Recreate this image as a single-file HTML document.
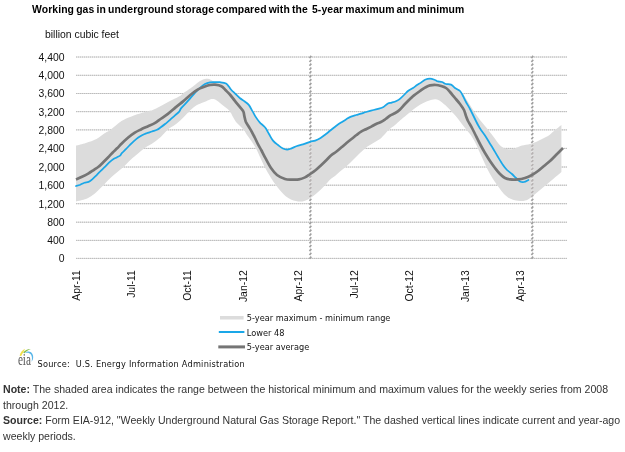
<!DOCTYPE html>
<html><head><meta charset="utf-8"><title>Working gas in underground storage</title>
<style>
html,body{margin:0;padding:0;background:#fff}
body{width:625px;height:452px;position:relative;overflow:hidden;-webkit-font-smoothing:antialiased;font-family:"Liberation Sans",Arial,sans-serif}
.ax{font:10.4px "Liberation Sans",Arial,sans-serif;fill:#111}
.lg{font:8.2px "DejaVu Sans",Verdana,sans-serif;fill:#111}
.title,.unit,.note{will-change:transform}
.title{position:absolute;left:32px;top:3.3px;font:bold 10.4px "Liberation Sans",Arial,sans-serif;color:#000;white-space:pre;line-height:14px;letter-spacing:0.1px;word-spacing:-0.9px}
.unit{position:absolute;left:44.6px;top:27.8px;font:10.4px "Liberation Sans",Arial,sans-serif;color:#111;white-space:nowrap;line-height:14px}
.note{position:absolute;left:3.4px;top:382.4px;width:621px;font:10.57px "Liberation Sans",Arial,sans-serif;line-height:15.7px;color:#333;white-space:nowrap}
.note b{font-weight:bold}
</style></head><body>
<svg width="625" height="452" viewBox="0 0 625 452" style="position:absolute;left:0;top:0;will-change:transform">
<line x1="76" x2="567" y1="57.00" y2="57.00" stroke="#d6d6d6" stroke-width="1"/>
<line x1="76" x2="567" y1="57.00" y2="57.00" stroke="#bcbcbc" stroke-width="1" stroke-dasharray="1,1"/>
<line x1="76" x2="567" y1="75.30" y2="75.30" stroke="#d6d6d6" stroke-width="1"/>
<line x1="76" x2="567" y1="75.30" y2="75.30" stroke="#bcbcbc" stroke-width="1" stroke-dasharray="1,1"/>
<line x1="76" x2="567" y1="93.50" y2="93.50" stroke="#d6d6d6" stroke-width="1"/>
<line x1="76" x2="567" y1="93.50" y2="93.50" stroke="#bcbcbc" stroke-width="1" stroke-dasharray="1,1"/>
<line x1="76" x2="567" y1="111.65" y2="111.65" stroke="#d6d6d6" stroke-width="1"/>
<line x1="76" x2="567" y1="111.65" y2="111.65" stroke="#bcbcbc" stroke-width="1" stroke-dasharray="1,1"/>
<line x1="76" x2="567" y1="129.90" y2="129.90" stroke="#d6d6d6" stroke-width="1"/>
<line x1="76" x2="567" y1="129.90" y2="129.90" stroke="#bcbcbc" stroke-width="1" stroke-dasharray="1,1"/>
<line x1="76" x2="567" y1="148.40" y2="148.40" stroke="#d6d6d6" stroke-width="1"/>
<line x1="76" x2="567" y1="148.40" y2="148.40" stroke="#bcbcbc" stroke-width="1" stroke-dasharray="1,1"/>
<line x1="76" x2="567" y1="167.00" y2="167.00" stroke="#d6d6d6" stroke-width="1"/>
<line x1="76" x2="567" y1="167.00" y2="167.00" stroke="#bcbcbc" stroke-width="1" stroke-dasharray="1,1"/>
<line x1="76" x2="567" y1="185.20" y2="185.20" stroke="#d6d6d6" stroke-width="1"/>
<line x1="76" x2="567" y1="185.20" y2="185.20" stroke="#bcbcbc" stroke-width="1" stroke-dasharray="1,1"/>
<line x1="76" x2="567" y1="203.70" y2="203.70" stroke="#d6d6d6" stroke-width="1"/>
<line x1="76" x2="567" y1="203.70" y2="203.70" stroke="#bcbcbc" stroke-width="1" stroke-dasharray="1,1"/>
<line x1="76" x2="567" y1="222.20" y2="222.20" stroke="#d6d6d6" stroke-width="1"/>
<line x1="76" x2="567" y1="222.20" y2="222.20" stroke="#bcbcbc" stroke-width="1" stroke-dasharray="1,1"/>
<line x1="76" x2="567" y1="240.40" y2="240.40" stroke="#d6d6d6" stroke-width="1"/>
<line x1="76" x2="567" y1="240.40" y2="240.40" stroke="#bcbcbc" stroke-width="1" stroke-dasharray="1,1"/>
<line x1="76" x2="567" y1="258.40" y2="258.40" stroke="#d6d6d6" stroke-width="1"/>
<line x1="76" x2="567" y1="258.40" y2="258.40" stroke="#bcbcbc" stroke-width="1" stroke-dasharray="1,1"/>
<path d="M311.3,55.9L309.5,58.1M311.3,59.8L309.5,62.0M311.3,63.6L309.5,65.8M311.3,67.5L309.5,69.7M311.3,71.3L309.5,73.5M311.3,75.2L309.5,77.4M311.3,79.1L309.5,81.3M311.3,82.9L309.5,85.1M311.3,86.8L309.5,89.0M311.3,90.6L309.5,92.8M311.3,94.5L309.5,96.7M311.3,98.4L309.5,100.6M311.3,102.2L309.5,104.4M311.3,106.1L309.5,108.3M311.3,109.9L309.5,112.1M311.3,113.8L309.5,116.0M311.3,117.7L309.5,119.9M311.3,121.5L309.5,123.7M311.3,125.4L309.5,127.6M311.3,129.2L309.5,131.4M311.3,133.1L309.5,135.3M311.3,137.0L309.5,139.2M311.3,140.8L309.5,143.0M311.3,144.7L309.5,146.9M311.3,148.5L309.5,150.7M311.3,152.4L309.5,154.6M311.3,156.3L309.5,158.5M311.3,160.1L309.5,162.3M311.3,164.0L309.5,166.2M311.3,167.8L309.5,170.0M311.3,171.7L309.5,173.9M311.3,175.6L309.5,177.8M311.3,179.4L309.5,181.6M311.3,183.3L309.5,185.5M311.3,187.1L309.5,189.3M311.3,191.0L309.5,193.2M311.3,194.9L309.5,197.1M311.3,198.7L309.5,200.9M311.3,202.6L309.5,204.8M311.3,206.4L309.5,208.6M311.3,210.3L309.5,212.5M311.3,214.2L309.5,216.4M311.3,218.0L309.5,220.2M311.3,221.9L309.5,224.1M311.3,225.7L309.5,227.9M311.3,229.6L309.5,231.8M311.3,233.5L309.5,235.7M311.3,237.3L309.5,239.5M311.3,241.2L309.5,243.4M311.3,245.0L309.5,247.2M311.3,248.9L309.5,251.1M311.3,252.8L309.5,255.0M311.3,256.6L309.5,258.8" stroke="#a0a0a0" stroke-width="1.7" fill="none"/>
<path d="M533.2,55.9L531.4,58.1M533.2,59.8L531.4,62.0M533.2,63.6L531.4,65.8M533.2,67.5L531.4,69.7M533.2,71.3L531.4,73.5M533.2,75.2L531.4,77.4M533.2,79.1L531.4,81.3M533.2,82.9L531.4,85.1M533.2,86.8L531.4,89.0M533.2,90.6L531.4,92.8M533.2,94.5L531.4,96.7M533.2,98.4L531.4,100.6M533.2,102.2L531.4,104.4M533.2,106.1L531.4,108.3M533.2,109.9L531.4,112.1M533.2,113.8L531.4,116.0M533.2,117.7L531.4,119.9M533.2,121.5L531.4,123.7M533.2,125.4L531.4,127.6M533.2,129.2L531.4,131.4M533.2,133.1L531.4,135.3M533.2,137.0L531.4,139.2M533.2,140.8L531.4,143.0M533.2,144.7L531.4,146.9M533.2,148.5L531.4,150.7M533.2,152.4L531.4,154.6M533.2,156.3L531.4,158.5M533.2,160.1L531.4,162.3M533.2,164.0L531.4,166.2M533.2,167.8L531.4,170.0M533.2,171.7L531.4,173.9M533.2,175.6L531.4,177.8M533.2,179.4L531.4,181.6M533.2,183.3L531.4,185.5M533.2,187.1L531.4,189.3M533.2,191.0L531.4,193.2M533.2,194.9L531.4,197.1M533.2,198.7L531.4,200.9M533.2,202.6L531.4,204.8M533.2,206.4L531.4,208.6M533.2,210.3L531.4,212.5M533.2,214.2L531.4,216.4M533.2,218.0L531.4,220.2M533.2,221.9L531.4,224.1M533.2,225.7L531.4,227.9M533.2,229.6L531.4,231.8M533.2,233.5L531.4,235.7M533.2,237.3L531.4,239.5M533.2,241.2L531.4,243.4M533.2,245.0L531.4,247.2M533.2,248.9L531.4,251.1M533.2,252.8L531.4,255.0M533.2,256.6L531.4,258.8" stroke="#a0a0a0" stroke-width="1.7" fill="none"/>
<clipPath id="bc"><path d="M76.0,145.6 C77.7,145.2 82.5,144.1 85.9,143.0 C89.3,141.9 93.6,140.5 96.5,139.0 C99.4,137.5 101.2,135.5 103.5,134.0 C105.8,132.5 107.5,132.0 110.5,129.8 C113.5,127.6 118.0,123.2 121.5,121.0 C125.0,118.8 127.3,118.0 131.5,116.4 C135.7,114.8 143.2,112.6 146.5,111.6 C149.8,110.6 149.9,110.9 151.5,110.4 C153.1,109.9 154.5,109.2 156.1,108.4 C157.7,107.7 159.2,106.7 160.8,105.9 C162.4,105.1 163.9,104.2 165.4,103.4 C166.9,102.6 168.4,101.7 170.0,100.9 C171.6,100.1 173.3,99.2 175.0,98.4 C176.7,97.6 178.7,96.7 180.0,95.9 C181.3,95.1 181.7,94.4 183.0,93.4 C184.3,92.4 186.3,91.2 188.0,90.0 C189.7,88.8 191.7,87.5 193.0,86.5 C194.3,85.5 194.8,84.9 196.0,84.0 C197.2,83.1 198.5,81.8 200.0,81.0 C201.5,80.2 203.5,79.3 205.0,79.0 C206.5,78.7 207.8,78.8 209.0,79.0 C210.2,79.2 211.0,80.0 212.0,80.5 C213.0,81.0 213.7,81.9 215.0,82.2 C216.3,82.5 218.2,82.0 220.0,82.2 C221.8,82.4 224.5,82.6 226.0,83.4 C227.5,84.2 228.1,85.7 229.0,86.8 C229.9,87.9 230.4,88.9 231.4,90.0 C232.4,91.1 233.5,92.0 234.9,93.3 C236.3,94.6 238.2,96.6 239.8,98.0 C241.5,99.4 243.3,100.3 244.8,101.5 C246.3,102.7 247.6,103.3 248.8,104.9 C250.1,106.5 251.2,108.9 252.3,110.9 C253.5,112.9 254.5,115.0 255.7,116.9 C256.9,118.8 258.1,120.6 259.7,122.3 C261.2,124.0 263.4,125.3 265.0,127.3 C266.6,129.2 267.7,131.8 269.0,134.0 C270.3,136.2 271.5,138.8 273.0,140.6 C274.5,142.4 276.3,143.7 278.0,145.0 C279.7,146.3 281.5,147.8 283.0,148.6 C284.5,149.4 285.7,149.6 287.0,149.6 C288.3,149.6 289.3,149.2 291.0,148.6 C292.7,148.0 295.0,146.7 297.0,146.0 C299.0,145.3 300.8,145.1 303.0,144.4 C305.2,143.7 308.0,142.4 310.0,141.8 C312.0,141.2 313.4,141.2 315.2,140.6 C317.0,140.0 318.8,139.1 320.6,138.0 C322.4,136.9 324.3,135.3 326.0,134.0 C327.7,132.7 329.3,131.3 331.0,130.0 C332.7,128.7 334.3,127.2 336.0,126.0 C337.7,124.8 339.3,123.7 341.0,122.6 C342.7,121.5 344.3,120.4 346.0,119.4 C347.7,118.4 349.3,117.3 351.0,116.6 C352.7,115.9 354.3,115.5 356.0,115.0 C357.7,114.5 359.3,114.1 361.0,113.6 C362.7,113.1 364.3,112.5 366.0,112.0 C367.7,111.5 369.3,111.0 371.0,110.6 C372.7,110.2 374.3,109.8 376.0,109.4 C377.7,109.0 379.7,108.5 381.0,108.0 C382.3,107.5 382.9,107.4 384.0,106.6 C385.1,105.8 386.6,104.1 387.9,103.4 C389.2,102.7 390.3,103.0 391.7,102.6 C393.1,102.2 395.0,101.7 396.4,101.0 C397.8,100.3 398.8,99.8 400.2,98.6 C401.6,97.4 403.7,95.3 405.0,94.0 C406.3,92.7 406.7,92.0 408.0,91.0 C409.3,90.0 411.5,89.0 413.0,88.0 C414.5,87.0 415.7,85.9 417.0,85.0 C418.3,84.1 419.7,83.5 421.0,82.6 C422.3,81.7 423.5,80.5 425.0,79.8 C426.5,79.1 428.3,78.6 430.0,78.6 C431.7,78.6 433.7,79.5 435.0,80.0 C436.3,80.5 436.8,81.1 438.0,81.4 C439.2,81.7 440.7,81.6 442.0,82.0 C443.3,82.4 444.5,83.6 446.0,84.0 C447.5,84.4 449.5,83.9 451.0,84.6 C452.5,85.3 453.5,87.1 455.0,88.0 C456.5,88.9 458.3,88.5 460.0,90.0 C461.7,91.5 463.3,94.5 465.0,97.0 C466.7,99.5 468.3,102.3 470.0,105.0 C471.7,107.7 473.3,110.5 475.0,113.0 C476.7,115.5 478.3,117.8 480.0,120.0 C481.7,122.2 483.3,124.0 485.0,126.0 C486.7,128.0 488.3,130.1 490.0,132.2 C491.7,134.3 493.5,136.8 495.0,138.8 C496.5,140.8 497.7,142.7 499.0,144.2 C500.3,145.7 501.7,146.8 503.0,147.6 C504.3,148.4 505.5,148.7 507.0,149.0 C508.5,149.3 510.3,149.4 512.0,149.2 C513.7,149.0 515.3,148.2 517.0,147.6 C518.7,147.0 519.8,146.2 522.0,145.6 C524.2,145.0 527.7,144.6 530.0,144.0 C532.3,143.4 534.0,142.8 536.0,142.0 C538.0,141.2 540.0,140.0 542.0,139.0 C544.0,138.0 546.0,137.3 548.0,136.0 C550.0,134.7 551.8,132.8 554.0,131.0 C556.2,129.2 560.2,126.0 561.4,125.0 L561.4,172.0 C560.8,172.5 559.6,173.7 558.0,175.0 C556.4,176.3 554.0,178.3 552.0,180.0 C550.0,181.7 548.0,183.3 546.0,185.0 C544.0,186.7 542.0,188.3 540.0,190.0 C538.0,191.7 536.0,193.4 534.0,195.0 C532.0,196.6 530.0,198.4 528.0,199.4 C526.0,200.4 524.0,200.8 522.0,201.0 C520.0,201.2 518.0,201.0 516.0,200.6 C514.0,200.2 511.8,199.5 510.0,198.6 C508.2,197.7 506.7,196.6 505.0,195.0 C503.3,193.4 501.7,191.2 500.0,189.0 C498.3,186.8 496.7,184.5 495.0,182.0 C493.3,179.5 491.7,177.0 490.0,174.0 C488.3,171.0 486.7,167.5 485.0,164.0 C483.3,160.5 481.7,156.7 480.0,153.0 C478.3,149.3 476.7,145.2 475.0,142.0 C473.3,138.8 471.7,136.3 470.0,134.0 C468.3,131.7 466.7,130.1 465.0,128.0 C463.3,125.9 461.6,123.5 460.0,121.5 C458.4,119.5 457.1,117.8 455.7,116.1 C454.3,114.4 453.0,112.9 451.7,111.4 C450.4,110.0 449.0,108.6 447.7,107.4 C446.4,106.2 445.1,105.2 443.8,104.1 C442.5,103.0 441.1,101.6 439.8,100.8 C438.5,100.0 437.1,99.4 435.8,99.2 C434.5,99.0 433.4,99.3 431.8,99.7 C430.2,100.1 428.5,100.7 426.5,101.5 C424.5,102.3 422.2,103.5 420.0,104.8 C417.8,106.1 415.5,107.7 413.3,109.4 C411.1,111.1 408.8,113.1 406.6,114.9 C404.4,116.8 401.9,118.8 400.0,120.5 C398.1,122.2 396.8,123.5 395.0,125.0 C393.2,126.5 390.7,128.0 389.0,129.5 C387.3,131.0 386.5,132.4 385.0,134.0 C383.5,135.6 381.7,137.7 380.0,139.0 C378.3,140.3 376.7,141.0 375.0,142.0 C373.3,143.0 371.7,143.9 370.0,145.0 C368.3,146.1 366.7,147.1 365.0,148.4 C363.3,149.7 361.7,151.4 360.0,153.0 C358.3,154.6 356.7,156.3 355.0,158.0 C353.3,159.7 351.7,161.4 350.0,163.0 C348.3,164.6 346.7,166.0 345.0,167.4 C343.3,168.8 341.7,170.0 340.0,171.4 C338.3,172.8 336.6,174.7 335.0,176.0 C333.4,177.3 332.2,177.7 330.5,179.2 C328.8,180.7 326.7,183.4 325.0,185.2 C323.3,187.0 321.9,188.4 320.3,189.9 C318.7,191.4 316.9,193.0 315.2,194.4 C313.5,195.8 311.7,197.2 310.0,198.3 C308.3,199.4 306.7,200.2 305.0,200.8 C303.3,201.4 301.5,201.6 300.0,201.6 C298.5,201.6 297.5,201.5 296.0,201.1 C294.5,200.7 292.6,200.2 290.9,199.4 C289.2,198.6 287.4,197.6 285.7,196.2 C284.0,194.8 282.2,192.9 280.6,191.1 C279.0,189.3 277.6,187.4 276.0,185.2 C274.4,183.0 272.9,181.1 271.0,178.0 C269.1,174.9 266.4,170.1 264.6,166.8 C262.9,163.5 261.9,161.1 260.5,158.0 C259.1,154.9 257.6,151.3 256.0,148.4 C254.4,145.5 252.5,142.7 251.0,140.5 C249.5,138.3 248.2,136.8 247.0,135.0 C245.8,133.2 245.2,131.5 244.0,130.0 C242.8,128.5 241.3,127.3 240.0,126.0 C238.7,124.7 237.2,123.5 236.0,122.0 C234.8,120.5 234.0,118.8 233.0,117.0 C232.0,115.2 231.3,113.1 230.0,111.4 C228.7,109.7 226.7,108.4 225.0,107.0 C223.3,105.6 221.5,104.2 220.0,103.0 C218.5,101.8 217.2,100.7 216.0,100.0 C214.8,99.3 214.0,99.1 213.0,99.0 C212.0,98.9 211.3,99.0 210.0,99.5 C208.7,100.0 206.5,101.1 205.0,101.7 C203.5,102.3 202.3,102.7 201.0,103.2 C199.7,103.8 198.5,104.1 197.0,105.0 C195.5,105.9 193.3,107.6 192.0,108.7 C190.7,109.8 190.2,110.3 189.0,111.5 C187.8,112.7 186.5,114.2 185.0,115.8 C183.5,117.3 181.7,119.3 180.0,120.8 C178.3,122.3 177.1,123.3 175.0,124.8 C172.9,126.3 170.0,127.8 167.6,129.8 C165.2,131.8 163.5,134.6 160.8,137.0 C158.1,139.4 154.2,142.1 151.5,144.0 C148.8,145.9 147.8,145.7 144.5,148.2 C141.2,150.7 134.9,156.0 131.5,159.0 C128.1,162.0 127.2,163.4 123.9,166.4 C120.6,169.4 114.9,173.9 111.5,177.0 C108.1,180.1 106.0,182.5 103.5,185.0 C101.0,187.5 98.5,190.2 96.5,192.0 C94.5,193.8 93.3,194.8 91.5,196.0 C89.7,197.2 88.5,198.1 85.9,199.0 C83.3,199.9 77.7,201.0 76.0,201.4Z"/></clipPath>
<path d="M76.0,145.6 C77.7,145.2 82.5,144.1 85.9,143.0 C89.3,141.9 93.6,140.5 96.5,139.0 C99.4,137.5 101.2,135.5 103.5,134.0 C105.8,132.5 107.5,132.0 110.5,129.8 C113.5,127.6 118.0,123.2 121.5,121.0 C125.0,118.8 127.3,118.0 131.5,116.4 C135.7,114.8 143.2,112.6 146.5,111.6 C149.8,110.6 149.9,110.9 151.5,110.4 C153.1,109.9 154.5,109.2 156.1,108.4 C157.7,107.7 159.2,106.7 160.8,105.9 C162.4,105.1 163.9,104.2 165.4,103.4 C166.9,102.6 168.4,101.7 170.0,100.9 C171.6,100.1 173.3,99.2 175.0,98.4 C176.7,97.6 178.7,96.7 180.0,95.9 C181.3,95.1 181.7,94.4 183.0,93.4 C184.3,92.4 186.3,91.2 188.0,90.0 C189.7,88.8 191.7,87.5 193.0,86.5 C194.3,85.5 194.8,84.9 196.0,84.0 C197.2,83.1 198.5,81.8 200.0,81.0 C201.5,80.2 203.5,79.3 205.0,79.0 C206.5,78.7 207.8,78.8 209.0,79.0 C210.2,79.2 211.0,80.0 212.0,80.5 C213.0,81.0 213.7,81.9 215.0,82.2 C216.3,82.5 218.2,82.0 220.0,82.2 C221.8,82.4 224.5,82.6 226.0,83.4 C227.5,84.2 228.1,85.7 229.0,86.8 C229.9,87.9 230.4,88.9 231.4,90.0 C232.4,91.1 233.5,92.0 234.9,93.3 C236.3,94.6 238.2,96.6 239.8,98.0 C241.5,99.4 243.3,100.3 244.8,101.5 C246.3,102.7 247.6,103.3 248.8,104.9 C250.1,106.5 251.2,108.9 252.3,110.9 C253.5,112.9 254.5,115.0 255.7,116.9 C256.9,118.8 258.1,120.6 259.7,122.3 C261.2,124.0 263.4,125.3 265.0,127.3 C266.6,129.2 267.7,131.8 269.0,134.0 C270.3,136.2 271.5,138.8 273.0,140.6 C274.5,142.4 276.3,143.7 278.0,145.0 C279.7,146.3 281.5,147.8 283.0,148.6 C284.5,149.4 285.7,149.6 287.0,149.6 C288.3,149.6 289.3,149.2 291.0,148.6 C292.7,148.0 295.0,146.7 297.0,146.0 C299.0,145.3 300.8,145.1 303.0,144.4 C305.2,143.7 308.0,142.4 310.0,141.8 C312.0,141.2 313.4,141.2 315.2,140.6 C317.0,140.0 318.8,139.1 320.6,138.0 C322.4,136.9 324.3,135.3 326.0,134.0 C327.7,132.7 329.3,131.3 331.0,130.0 C332.7,128.7 334.3,127.2 336.0,126.0 C337.7,124.8 339.3,123.7 341.0,122.6 C342.7,121.5 344.3,120.4 346.0,119.4 C347.7,118.4 349.3,117.3 351.0,116.6 C352.7,115.9 354.3,115.5 356.0,115.0 C357.7,114.5 359.3,114.1 361.0,113.6 C362.7,113.1 364.3,112.5 366.0,112.0 C367.7,111.5 369.3,111.0 371.0,110.6 C372.7,110.2 374.3,109.8 376.0,109.4 C377.7,109.0 379.7,108.5 381.0,108.0 C382.3,107.5 382.9,107.4 384.0,106.6 C385.1,105.8 386.6,104.1 387.9,103.4 C389.2,102.7 390.3,103.0 391.7,102.6 C393.1,102.2 395.0,101.7 396.4,101.0 C397.8,100.3 398.8,99.8 400.2,98.6 C401.6,97.4 403.7,95.3 405.0,94.0 C406.3,92.7 406.7,92.0 408.0,91.0 C409.3,90.0 411.5,89.0 413.0,88.0 C414.5,87.0 415.7,85.9 417.0,85.0 C418.3,84.1 419.7,83.5 421.0,82.6 C422.3,81.7 423.5,80.5 425.0,79.8 C426.5,79.1 428.3,78.6 430.0,78.6 C431.7,78.6 433.7,79.5 435.0,80.0 C436.3,80.5 436.8,81.1 438.0,81.4 C439.2,81.7 440.7,81.6 442.0,82.0 C443.3,82.4 444.5,83.6 446.0,84.0 C447.5,84.4 449.5,83.9 451.0,84.6 C452.5,85.3 453.5,87.1 455.0,88.0 C456.5,88.9 458.3,88.5 460.0,90.0 C461.7,91.5 463.3,94.5 465.0,97.0 C466.7,99.5 468.3,102.3 470.0,105.0 C471.7,107.7 473.3,110.5 475.0,113.0 C476.7,115.5 478.3,117.8 480.0,120.0 C481.7,122.2 483.3,124.0 485.0,126.0 C486.7,128.0 488.3,130.1 490.0,132.2 C491.7,134.3 493.5,136.8 495.0,138.8 C496.5,140.8 497.7,142.7 499.0,144.2 C500.3,145.7 501.7,146.8 503.0,147.6 C504.3,148.4 505.5,148.7 507.0,149.0 C508.5,149.3 510.3,149.4 512.0,149.2 C513.7,149.0 515.3,148.2 517.0,147.6 C518.7,147.0 519.8,146.2 522.0,145.6 C524.2,145.0 527.7,144.6 530.0,144.0 C532.3,143.4 534.0,142.8 536.0,142.0 C538.0,141.2 540.0,140.0 542.0,139.0 C544.0,138.0 546.0,137.3 548.0,136.0 C550.0,134.7 551.8,132.8 554.0,131.0 C556.2,129.2 560.2,126.0 561.4,125.0 L561.4,172.0 C560.8,172.5 559.6,173.7 558.0,175.0 C556.4,176.3 554.0,178.3 552.0,180.0 C550.0,181.7 548.0,183.3 546.0,185.0 C544.0,186.7 542.0,188.3 540.0,190.0 C538.0,191.7 536.0,193.4 534.0,195.0 C532.0,196.6 530.0,198.4 528.0,199.4 C526.0,200.4 524.0,200.8 522.0,201.0 C520.0,201.2 518.0,201.0 516.0,200.6 C514.0,200.2 511.8,199.5 510.0,198.6 C508.2,197.7 506.7,196.6 505.0,195.0 C503.3,193.4 501.7,191.2 500.0,189.0 C498.3,186.8 496.7,184.5 495.0,182.0 C493.3,179.5 491.7,177.0 490.0,174.0 C488.3,171.0 486.7,167.5 485.0,164.0 C483.3,160.5 481.7,156.7 480.0,153.0 C478.3,149.3 476.7,145.2 475.0,142.0 C473.3,138.8 471.7,136.3 470.0,134.0 C468.3,131.7 466.7,130.1 465.0,128.0 C463.3,125.9 461.6,123.5 460.0,121.5 C458.4,119.5 457.1,117.8 455.7,116.1 C454.3,114.4 453.0,112.9 451.7,111.4 C450.4,110.0 449.0,108.6 447.7,107.4 C446.4,106.2 445.1,105.2 443.8,104.1 C442.5,103.0 441.1,101.6 439.8,100.8 C438.5,100.0 437.1,99.4 435.8,99.2 C434.5,99.0 433.4,99.3 431.8,99.7 C430.2,100.1 428.5,100.7 426.5,101.5 C424.5,102.3 422.2,103.5 420.0,104.8 C417.8,106.1 415.5,107.7 413.3,109.4 C411.1,111.1 408.8,113.1 406.6,114.9 C404.4,116.8 401.9,118.8 400.0,120.5 C398.1,122.2 396.8,123.5 395.0,125.0 C393.2,126.5 390.7,128.0 389.0,129.5 C387.3,131.0 386.5,132.4 385.0,134.0 C383.5,135.6 381.7,137.7 380.0,139.0 C378.3,140.3 376.7,141.0 375.0,142.0 C373.3,143.0 371.7,143.9 370.0,145.0 C368.3,146.1 366.7,147.1 365.0,148.4 C363.3,149.7 361.7,151.4 360.0,153.0 C358.3,154.6 356.7,156.3 355.0,158.0 C353.3,159.7 351.7,161.4 350.0,163.0 C348.3,164.6 346.7,166.0 345.0,167.4 C343.3,168.8 341.7,170.0 340.0,171.4 C338.3,172.8 336.6,174.7 335.0,176.0 C333.4,177.3 332.2,177.7 330.5,179.2 C328.8,180.7 326.7,183.4 325.0,185.2 C323.3,187.0 321.9,188.4 320.3,189.9 C318.7,191.4 316.9,193.0 315.2,194.4 C313.5,195.8 311.7,197.2 310.0,198.3 C308.3,199.4 306.7,200.2 305.0,200.8 C303.3,201.4 301.5,201.6 300.0,201.6 C298.5,201.6 297.5,201.5 296.0,201.1 C294.5,200.7 292.6,200.2 290.9,199.4 C289.2,198.6 287.4,197.6 285.7,196.2 C284.0,194.8 282.2,192.9 280.6,191.1 C279.0,189.3 277.6,187.4 276.0,185.2 C274.4,183.0 272.9,181.1 271.0,178.0 C269.1,174.9 266.4,170.1 264.6,166.8 C262.9,163.5 261.9,161.1 260.5,158.0 C259.1,154.9 257.6,151.3 256.0,148.4 C254.4,145.5 252.5,142.7 251.0,140.5 C249.5,138.3 248.2,136.8 247.0,135.0 C245.8,133.2 245.2,131.5 244.0,130.0 C242.8,128.5 241.3,127.3 240.0,126.0 C238.7,124.7 237.2,123.5 236.0,122.0 C234.8,120.5 234.0,118.8 233.0,117.0 C232.0,115.2 231.3,113.1 230.0,111.4 C228.7,109.7 226.7,108.4 225.0,107.0 C223.3,105.6 221.5,104.2 220.0,103.0 C218.5,101.8 217.2,100.7 216.0,100.0 C214.8,99.3 214.0,99.1 213.0,99.0 C212.0,98.9 211.3,99.0 210.0,99.5 C208.7,100.0 206.5,101.1 205.0,101.7 C203.5,102.3 202.3,102.7 201.0,103.2 C199.7,103.8 198.5,104.1 197.0,105.0 C195.5,105.9 193.3,107.6 192.0,108.7 C190.7,109.8 190.2,110.3 189.0,111.5 C187.8,112.7 186.5,114.2 185.0,115.8 C183.5,117.3 181.7,119.3 180.0,120.8 C178.3,122.3 177.1,123.3 175.0,124.8 C172.9,126.3 170.0,127.8 167.6,129.8 C165.2,131.8 163.5,134.6 160.8,137.0 C158.1,139.4 154.2,142.1 151.5,144.0 C148.8,145.9 147.8,145.7 144.5,148.2 C141.2,150.7 134.9,156.0 131.5,159.0 C128.1,162.0 127.2,163.4 123.9,166.4 C120.6,169.4 114.9,173.9 111.5,177.0 C108.1,180.1 106.0,182.5 103.5,185.0 C101.0,187.5 98.5,190.2 96.5,192.0 C94.5,193.8 93.3,194.8 91.5,196.0 C89.7,197.2 88.5,198.1 85.9,199.0 C83.3,199.9 77.7,201.0 76.0,201.4Z" fill="#dcdcdc"/>
<g clip-path="url(#bc)">
<line x1="310.4" x2="310.4" y1="57" y2="258" stroke="#e9e9e9" stroke-width="1.6"/>
<path d="M311.3,55.9L309.5,58.1M311.3,59.8L309.5,62.0M311.3,63.6L309.5,65.8M311.3,67.5L309.5,69.7M311.3,71.3L309.5,73.5M311.3,75.2L309.5,77.4M311.3,79.1L309.5,81.3M311.3,82.9L309.5,85.1M311.3,86.8L309.5,89.0M311.3,90.6L309.5,92.8M311.3,94.5L309.5,96.7M311.3,98.4L309.5,100.6M311.3,102.2L309.5,104.4M311.3,106.1L309.5,108.3M311.3,109.9L309.5,112.1M311.3,113.8L309.5,116.0M311.3,117.7L309.5,119.9M311.3,121.5L309.5,123.7M311.3,125.4L309.5,127.6M311.3,129.2L309.5,131.4M311.3,133.1L309.5,135.3M311.3,137.0L309.5,139.2M311.3,140.8L309.5,143.0M311.3,144.7L309.5,146.9M311.3,148.5L309.5,150.7M311.3,152.4L309.5,154.6M311.3,156.3L309.5,158.5M311.3,160.1L309.5,162.3M311.3,164.0L309.5,166.2M311.3,167.8L309.5,170.0M311.3,171.7L309.5,173.9M311.3,175.6L309.5,177.8M311.3,179.4L309.5,181.6M311.3,183.3L309.5,185.5M311.3,187.1L309.5,189.3M311.3,191.0L309.5,193.2M311.3,194.9L309.5,197.1M311.3,198.7L309.5,200.9M311.3,202.6L309.5,204.8M311.3,206.4L309.5,208.6M311.3,210.3L309.5,212.5M311.3,214.2L309.5,216.4M311.3,218.0L309.5,220.2M311.3,221.9L309.5,224.1M311.3,225.7L309.5,227.9M311.3,229.6L309.5,231.8M311.3,233.5L309.5,235.7M311.3,237.3L309.5,239.5M311.3,241.2L309.5,243.4M311.3,245.0L309.5,247.2M311.3,248.9L309.5,251.1M311.3,252.8L309.5,255.0M311.3,256.6L309.5,258.8" stroke="#b6b2b2" stroke-width="1.7" fill="none"/>
<line x1="532.3" x2="532.3" y1="57" y2="258" stroke="#e9e9e9" stroke-width="1.6"/>
<path d="M533.2,55.9L531.4,58.1M533.2,59.8L531.4,62.0M533.2,63.6L531.4,65.8M533.2,67.5L531.4,69.7M533.2,71.3L531.4,73.5M533.2,75.2L531.4,77.4M533.2,79.1L531.4,81.3M533.2,82.9L531.4,85.1M533.2,86.8L531.4,89.0M533.2,90.6L531.4,92.8M533.2,94.5L531.4,96.7M533.2,98.4L531.4,100.6M533.2,102.2L531.4,104.4M533.2,106.1L531.4,108.3M533.2,109.9L531.4,112.1M533.2,113.8L531.4,116.0M533.2,117.7L531.4,119.9M533.2,121.5L531.4,123.7M533.2,125.4L531.4,127.6M533.2,129.2L531.4,131.4M533.2,133.1L531.4,135.3M533.2,137.0L531.4,139.2M533.2,140.8L531.4,143.0M533.2,144.7L531.4,146.9M533.2,148.5L531.4,150.7M533.2,152.4L531.4,154.6M533.2,156.3L531.4,158.5M533.2,160.1L531.4,162.3M533.2,164.0L531.4,166.2M533.2,167.8L531.4,170.0M533.2,171.7L531.4,173.9M533.2,175.6L531.4,177.8M533.2,179.4L531.4,181.6M533.2,183.3L531.4,185.5M533.2,187.1L531.4,189.3M533.2,191.0L531.4,193.2M533.2,194.9L531.4,197.1M533.2,198.7L531.4,200.9M533.2,202.6L531.4,204.8M533.2,206.4L531.4,208.6M533.2,210.3L531.4,212.5M533.2,214.2L531.4,216.4M533.2,218.0L531.4,220.2M533.2,221.9L531.4,224.1M533.2,225.7L531.4,227.9M533.2,229.6L531.4,231.8M533.2,233.5L531.4,235.7M533.2,237.3L531.4,239.5M533.2,241.2L531.4,243.4M533.2,245.0L531.4,247.2M533.2,248.9L531.4,251.1M533.2,252.8L531.4,255.0M533.2,256.6L531.4,258.8" stroke="#b6b2b2" stroke-width="1.7" fill="none"/>
</g>
<path d="M76.0,186.0 C76.7,185.8 78.9,185.2 80.3,184.7 C81.7,184.1 83.0,183.2 84.4,182.7 C85.8,182.2 87.2,182.5 88.6,181.9 C90.0,181.3 91.3,180.1 92.7,178.9 C94.1,177.7 95.5,176.2 96.9,174.8 C98.3,173.4 99.6,172.0 101.0,170.6 C102.4,169.2 103.8,168.0 105.2,166.6 C106.6,165.2 107.9,163.7 109.3,162.4 C110.7,161.1 112.2,159.8 113.5,159.0 C114.8,158.2 115.7,158.0 116.8,157.4 C117.9,156.8 119.3,156.3 120.1,155.6 C120.9,154.9 120.8,154.3 121.8,153.2 C122.8,152.1 124.5,150.5 125.9,149.1 C127.3,147.7 128.6,146.3 130.0,144.9 C131.4,143.5 132.8,142.0 134.2,140.8 C135.6,139.6 136.9,138.5 138.3,137.5 C139.7,136.5 141.1,135.7 142.5,135.0 C143.9,134.3 145.0,133.9 146.6,133.3 C148.2,132.7 150.3,132.1 152.0,131.5 C153.7,130.9 155.5,130.5 157.0,129.8 C158.5,129.1 159.4,128.3 160.8,127.3 C162.2,126.3 163.9,125.0 165.4,123.8 C166.9,122.5 168.4,121.2 170.0,119.8 C171.6,118.4 173.5,116.6 175.0,115.3 C176.5,114.0 178.0,113.1 179.0,111.9 C180.0,110.8 180.0,109.7 181.0,108.4 C182.0,107.1 183.5,105.8 185.0,104.2 C186.5,102.6 188.3,100.6 190.0,98.7 C191.7,96.8 193.3,94.6 195.0,92.8 C196.7,91.0 198.3,89.3 200.0,87.8 C201.7,86.3 203.3,84.9 205.0,84.0 C206.7,83.1 208.3,82.7 210.0,82.4 C211.7,82.1 213.3,82.2 215.0,82.2 C216.7,82.2 218.2,82.0 220.0,82.2 C221.8,82.4 224.5,82.6 226.0,83.4 C227.5,84.2 228.1,85.7 229.0,86.8 C229.9,87.9 230.4,88.9 231.4,90.0 C232.4,91.1 233.5,92.0 234.9,93.3 C236.3,94.6 238.2,96.6 239.8,98.0 C241.5,99.4 243.3,100.3 244.8,101.5 C246.3,102.7 247.6,103.3 248.8,104.9 C250.1,106.5 251.2,108.9 252.3,110.9 C253.5,112.9 254.5,115.0 255.7,116.9 C256.9,118.8 258.1,120.6 259.7,122.3 C261.2,124.0 263.4,125.3 265.0,127.3 C266.6,129.2 267.7,131.8 269.0,134.0 C270.3,136.2 271.5,138.8 273.0,140.6 C274.5,142.4 276.3,143.7 278.0,145.0 C279.7,146.3 281.5,147.8 283.0,148.6 C284.5,149.4 285.7,149.6 287.0,149.6 C288.3,149.6 289.3,149.2 291.0,148.6 C292.7,148.0 295.0,146.7 297.0,146.0 C299.0,145.3 300.8,145.1 303.0,144.4 C305.2,143.7 308.0,142.4 310.0,141.8 C312.0,141.2 313.4,141.2 315.2,140.6 C317.0,140.0 318.8,139.1 320.6,138.0 C322.4,136.9 324.3,135.3 326.0,134.0 C327.7,132.7 329.3,131.3 331.0,130.0 C332.7,128.7 334.3,127.2 336.0,126.0 C337.7,124.8 339.3,123.7 341.0,122.6 C342.7,121.5 344.3,120.4 346.0,119.4 C347.7,118.4 349.3,117.3 351.0,116.6 C352.7,115.9 354.3,115.5 356.0,115.0 C357.7,114.5 359.3,114.1 361.0,113.6 C362.7,113.1 364.3,112.5 366.0,112.0 C367.7,111.5 369.3,111.0 371.0,110.6 C372.7,110.2 374.3,109.8 376.0,109.4 C377.7,109.0 379.7,108.5 381.0,108.0 C382.3,107.5 382.9,107.4 384.0,106.6 C385.1,105.8 386.6,104.1 387.9,103.4 C389.2,102.7 390.3,103.0 391.7,102.6 C393.1,102.2 395.0,101.7 396.4,101.0 C397.8,100.3 398.8,99.8 400.2,98.6 C401.6,97.4 403.7,95.3 405.0,94.0 C406.3,92.7 406.7,92.0 408.0,91.0 C409.3,90.0 411.5,89.0 413.0,88.0 C414.5,87.0 415.7,85.9 417.0,85.0 C418.3,84.1 419.7,83.5 421.0,82.6 C422.3,81.7 423.5,80.5 425.0,79.8 C426.5,79.1 428.3,78.6 430.0,78.6 C431.7,78.6 433.7,79.5 435.0,80.0 C436.3,80.5 436.8,81.1 438.0,81.4 C439.2,81.7 440.7,81.6 442.0,82.0 C443.3,82.4 444.5,83.6 446.0,84.0 C447.5,84.4 449.5,83.9 451.0,84.6 C452.5,85.3 453.5,86.9 455.0,88.0 C456.5,89.1 458.7,89.7 460.0,91.0 C461.3,92.3 462.0,94.2 463.0,96.0 C464.0,97.8 464.8,99.8 466.0,102.0 C467.2,104.2 468.7,106.5 470.0,109.0 C471.3,111.5 472.7,114.3 474.0,117.0 C475.3,119.7 476.8,122.8 478.0,125.0 C479.2,127.2 479.8,128.2 481.0,130.0 C482.2,131.8 483.7,133.5 485.0,135.5 C486.3,137.5 487.7,139.8 489.0,142.0 C490.3,144.2 491.5,146.0 493.0,148.5 C494.5,151.0 496.3,154.2 498.0,157.0 C499.7,159.8 501.5,162.8 503.0,165.0 C504.5,167.2 505.5,168.5 507.0,170.0 C508.5,171.5 510.5,172.7 512.0,174.0 C513.5,175.3 514.7,176.8 516.0,178.0 C517.3,179.2 518.7,180.7 520.0,181.4 C521.3,182.1 522.6,182.2 524.0,182.0 C525.4,181.8 527.7,180.3 528.4,180.0" fill="none" stroke="#1aa7e8" stroke-width="1.75" stroke-linejoin="round" stroke-linecap="round"/>
<path d="M76.0,179.4 C77.0,179.0 79.9,177.8 82.0,176.8 C84.1,175.8 86.6,174.5 88.6,173.3 C90.6,172.1 92.3,170.9 94.0,169.8 C95.7,168.7 97.0,168.0 98.5,166.8 C100.0,165.6 101.4,164.1 103.0,162.5 C104.6,160.9 106.3,159.2 108.0,157.5 C109.7,155.8 111.5,153.7 113.0,152.2 C114.5,150.7 115.7,149.7 117.1,148.3 C118.5,146.9 119.7,145.6 121.5,143.8 C123.3,142.0 126.0,139.5 128.2,137.6 C130.4,135.7 132.6,134.0 134.8,132.6 C137.0,131.2 139.2,130.3 141.4,129.2 C143.6,128.1 145.9,127.2 148.1,126.2 C150.3,125.2 152.5,124.5 154.7,123.2 C156.9,121.9 159.1,120.0 161.3,118.5 C163.5,117.0 165.6,115.7 167.9,113.9 C170.2,112.1 173.0,109.6 175.0,107.9 C177.0,106.2 178.3,105.2 180.0,103.9 C181.7,102.6 183.3,101.2 185.0,99.8 C186.7,98.4 188.3,96.7 190.0,95.3 C191.7,93.9 193.3,92.6 195.0,91.4 C196.7,90.2 198.3,89.2 200.0,88.4 C201.7,87.6 203.3,87.0 205.0,86.4 C206.7,85.8 208.3,85.3 210.0,85.0 C211.7,84.7 213.1,84.5 215.0,84.7 C216.9,84.9 219.7,85.3 221.4,86.2 C223.1,87.1 224.0,88.6 225.4,90.0 C226.8,91.4 228.3,92.7 229.9,94.5 C231.5,96.3 233.2,98.8 234.9,100.9 C236.6,103.0 238.4,105.2 239.8,106.9 C241.2,108.7 242.6,109.9 243.3,111.4 C244.1,112.9 243.9,114.2 244.3,115.9 C244.7,117.6 245.1,120.0 245.8,121.8 C246.6,123.6 247.8,125.1 248.8,126.8 C249.8,128.5 250.8,129.9 251.8,131.8 C252.8,133.7 253.9,135.8 255.0,138.0 C256.1,140.2 257.1,142.6 258.2,144.7 C259.3,146.8 260.4,148.4 261.5,150.5 C262.6,152.6 263.4,154.4 265.0,157.3 C266.6,160.2 269.0,165.1 271.0,168.0 C273.0,170.9 274.7,173.2 277.0,175.0 C279.3,176.8 282.5,178.2 285.0,179.0 C287.5,179.8 289.7,179.5 292.0,179.6 C294.3,179.7 296.8,179.8 299.0,179.4 C301.2,179.0 303.1,178.3 305.0,177.4 C306.9,176.5 308.4,175.2 310.2,174.0 C312.0,172.8 313.9,171.5 315.8,170.0 C317.7,168.5 319.5,166.7 321.3,165.0 C323.1,163.3 324.8,161.7 326.5,160.0 C328.2,158.3 329.8,156.4 331.5,155.0 C333.2,153.6 334.8,152.8 336.5,151.5 C338.2,150.2 339.8,148.7 341.5,147.3 C343.2,145.9 344.8,144.4 346.5,143.0 C348.2,141.6 349.8,140.3 351.5,139.0 C353.2,137.7 354.8,136.3 356.5,135.0 C358.2,133.7 359.8,132.4 361.5,131.4 C363.2,130.4 364.9,129.8 366.5,129.0 C368.1,128.2 369.7,127.4 371.3,126.6 C372.9,125.8 374.5,124.8 376.1,124.0 C377.7,123.2 379.3,122.8 380.9,122.0 C382.5,121.2 384.0,120.1 385.6,119.0 C387.2,117.9 388.8,116.4 390.4,115.4 C392.0,114.4 393.6,114.0 395.2,113.0 C396.8,112.0 398.4,110.9 400.0,109.4 C401.6,107.9 403.3,105.7 405.0,104.0 C406.7,102.3 408.5,100.4 410.0,99.0 C411.5,97.6 412.3,96.7 414.0,95.4 C415.7,94.1 418.2,92.3 420.0,91.0 C421.8,89.7 423.3,88.5 425.0,87.6 C426.7,86.7 428.2,85.8 430.0,85.4 C431.8,85.0 434.2,84.9 436.0,85.0 C437.8,85.1 439.3,85.5 441.0,86.0 C442.7,86.5 444.5,87.0 446.0,88.0 C447.5,89.0 448.5,90.3 450.0,92.0 C451.5,93.7 453.3,96.0 455.0,98.0 C456.7,100.0 458.5,102.0 460.0,104.0 C461.5,106.0 463.0,108.0 464.0,110.0 C465.0,112.0 465.3,114.2 466.0,116.0 C466.7,117.8 467.0,119.0 468.0,121.0 C469.0,123.0 470.7,125.5 472.0,128.0 C473.3,130.5 474.7,133.3 476.0,136.0 C477.3,138.7 478.5,141.2 480.0,144.0 C481.5,146.8 483.3,150.2 485.0,153.0 C486.7,155.8 488.3,158.5 490.0,161.0 C491.7,163.5 493.3,165.8 495.0,168.0 C496.7,170.2 498.3,172.3 500.0,174.0 C501.7,175.7 503.3,177.1 505.0,178.0 C506.7,178.9 507.8,179.2 510.0,179.4 C512.2,179.6 515.5,179.6 518.0,179.4 C520.5,179.2 522.7,178.7 525.0,178.0 C527.3,177.3 529.8,176.2 532.0,175.0 C534.2,173.8 536.0,172.5 538.0,171.0 C540.0,169.5 542.0,167.7 544.0,166.0 C546.0,164.3 548.0,162.8 550.0,161.0 C552.0,159.2 553.8,157.2 556.0,155.0 C558.2,152.8 561.8,149.2 563.0,148.0" fill="none" stroke="#757575" stroke-width="2.7" stroke-linejoin="round" stroke-linecap="butt"/>
<text x="64.6" y="60.90" text-anchor="end" class="ax">4,400</text>
<text x="64.6" y="79.20" text-anchor="end" class="ax">4,000</text>
<text x="64.6" y="97.40" text-anchor="end" class="ax">3,600</text>
<text x="64.6" y="115.55" text-anchor="end" class="ax">3,200</text>
<text x="64.6" y="133.80" text-anchor="end" class="ax">2,800</text>
<text x="64.6" y="152.30" text-anchor="end" class="ax">2,400</text>
<text x="64.6" y="170.90" text-anchor="end" class="ax">2,000</text>
<text x="64.6" y="189.10" text-anchor="end" class="ax">1,600</text>
<text x="64.6" y="207.60" text-anchor="end" class="ax">1,200</text>
<text x="64.6" y="226.10" text-anchor="end" class="ax">800</text>
<text x="64.6" y="244.30" text-anchor="end" class="ax">400</text>
<text x="64.6" y="262.30" text-anchor="end" class="ax">0</text>
<text transform="translate(79.80,270.3) rotate(-90)" text-anchor="end" class="ax">Apr-11</text>
<text transform="translate(135.38,270.3) rotate(-90)" text-anchor="end" class="ax">Jul-11</text>
<text transform="translate(190.96,270.3) rotate(-90)" text-anchor="end" class="ax">Oct-11</text>
<text transform="translate(246.54,270.3) rotate(-90)" text-anchor="end" class="ax">Jan-12</text>
<text transform="translate(302.12,270.3) rotate(-90)" text-anchor="end" class="ax">Apr-12</text>
<text transform="translate(357.70,270.3) rotate(-90)" text-anchor="end" class="ax">Jul-12</text>
<text transform="translate(413.28,270.3) rotate(-90)" text-anchor="end" class="ax">Oct-12</text>
<text transform="translate(468.86,270.3) rotate(-90)" text-anchor="end" class="ax">Jan-13</text>
<text transform="translate(524.44,270.3) rotate(-90)" text-anchor="end" class="ax">Apr-13</text>
<rect x="220" y="316" width="23.6" height="3.5" fill="#dcdcdc"/>
<line x1="218.8" x2="244.4" y1="332" y2="332" stroke="#1aa7e8" stroke-width="2"/>
<line x1="218.3" x2="245" y1="346.9" y2="346.9" stroke="#757575" stroke-width="3"/>
<text x="246.8" y="321.4" class="lg">5-year maximum - minimum range</text>
<text x="246.8" y="336" class="lg">Lower 48</text>
<text x="246.8" y="350.2" class="lg">5-year average</text>
<text x="37.5" y="366.8" class="lg" style="letter-spacing:0.24px" xml:space="preserve">Source:  U.S. Energy Information Administration</text>
<text transform="translate(17.9,365.4) scale(0.64,1)" style="font:17.5px 'Liberation Serif',serif;fill:#585858">eia</text>
<path d="M19.6,355.8 C20.3,352.6 22.3,350 25,348.8 C24.2,351 22.6,353.2 21.2,356 Z" fill="#f1e04a"/>
<path d="M23.2,352.6 C25,350.2 27.6,349 30.8,349.1 C28.4,350.2 26.2,351.4 24.4,353.3 Z" fill="#86bd4c"/>
<path d="M24.6,353.2 C27.4,350.6 30.8,351.2 32.3,353.8 C33.8,356.4 33.5,359.6 31.5,361.8 C32.3,359 32.1,356.4 30.9,354.6 C29.5,352.7 27,352.5 24.6,353.2 Z" fill="#5ab6e8"/>
</svg>
<div class="title">Working gas in underground storage compared with the  5-year maximum and minimum</div>
<div class="unit">billion cubic feet</div>
<div class="note"><b>Note:</b> The shaded area indicates the range between the historical minimum and maximum values for the weekly series from 2008<br>through 2012.<br><b>Source:</b> Form EIA-912, "Weekly Underground Natural Gas Storage Report." The dashed vertical lines indicate current and year-ago<br>weekly periods.</div>
</body></html>
